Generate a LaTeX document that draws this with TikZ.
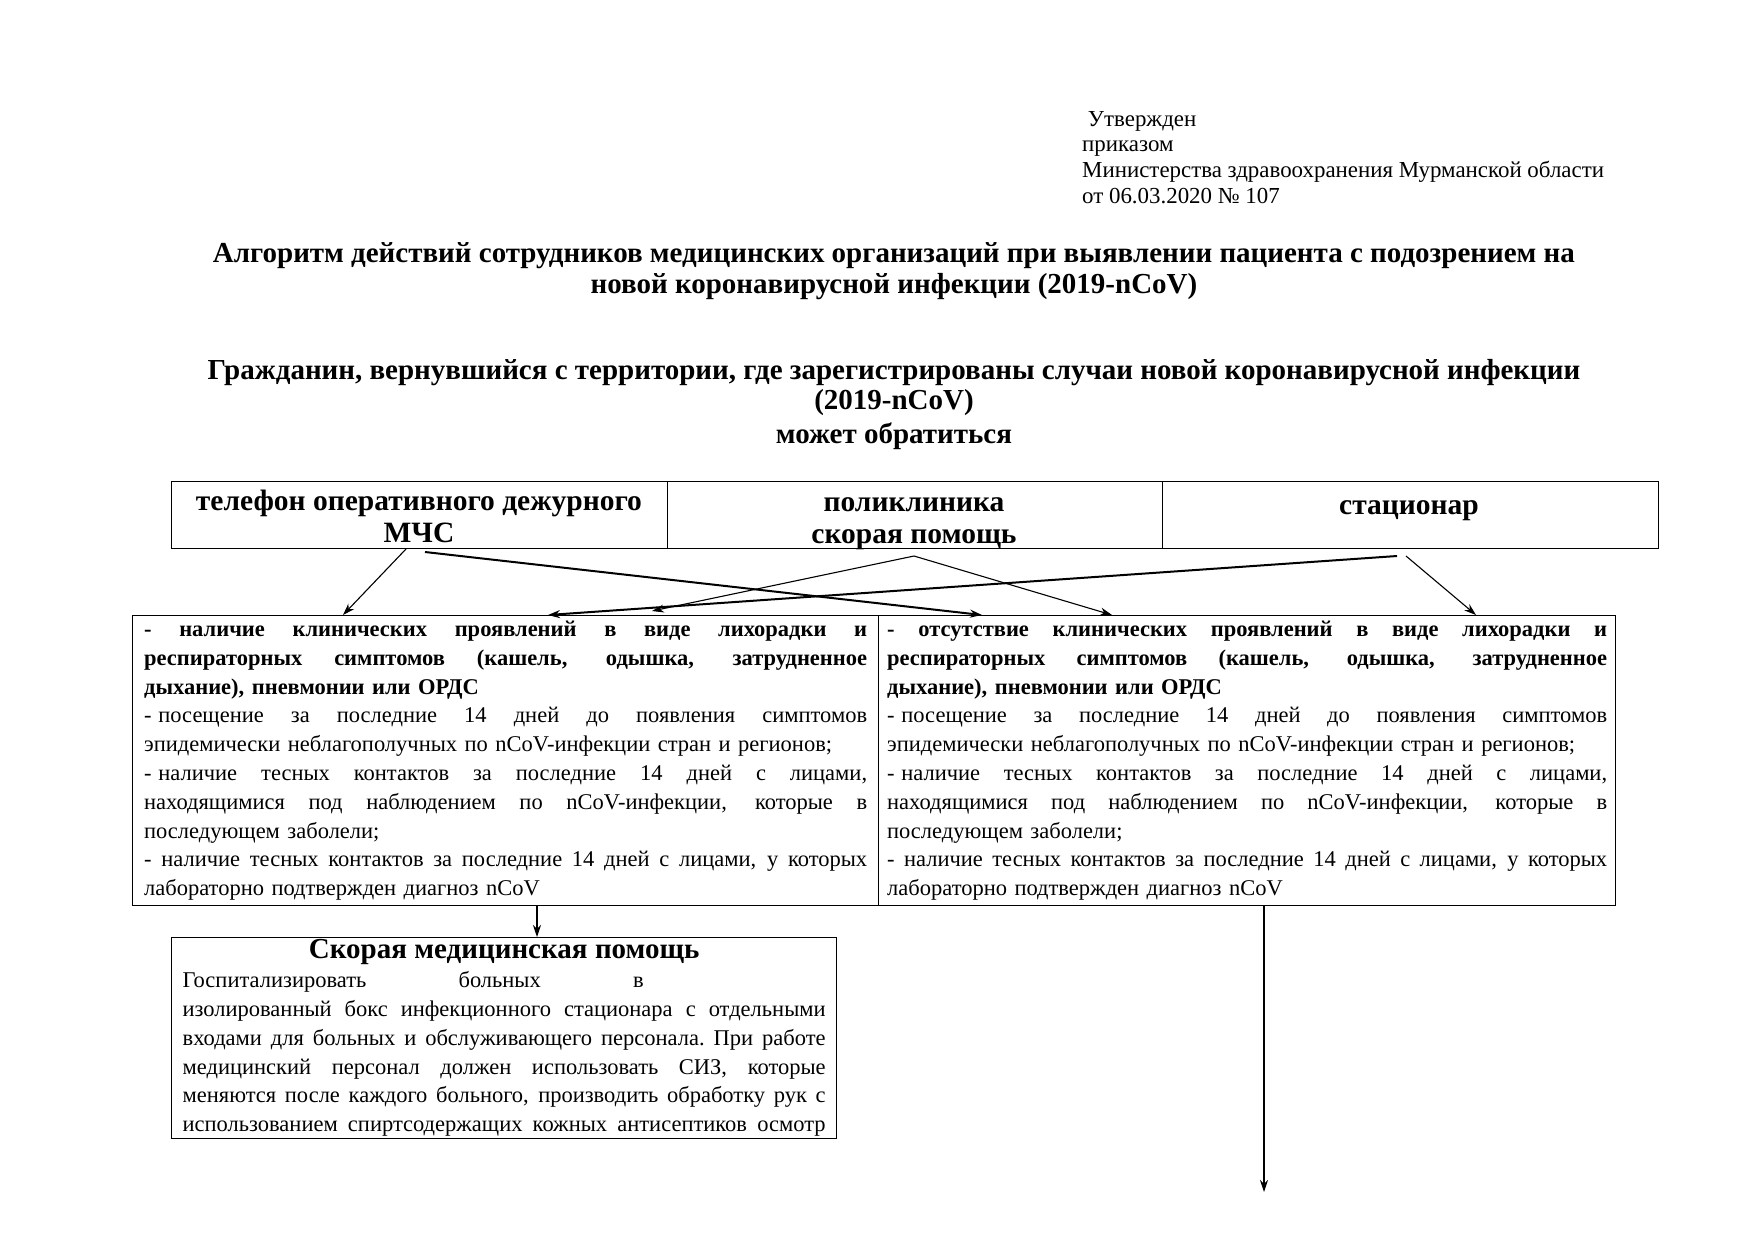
\documentclass[tikz,border=0pt]{standalone}
\usepackage{fontspec}
\setmainfont{Liberation Serif}
\usetikzlibrary{arrows.meta}
\newlength{\jw}
\newcommand{\J}[1]{\makebox[\jw][s]{\spaceskip=0.25em plus 20em\xspaceskip=0.25em plus 20em #1}}
\newcommand{\dsh}{-\hspace{0.3em}}
\begin{document}
\begin{tikzpicture}[x=1pt,y=-1pt,
  box/.style={draw,line width=1.3pt,inner ysep=0pt,anchor=north west,align=left},
  cell/.style={draw,line width=1.3pt,inner sep=0pt,anchor=north west,minimum width=495.5pt,minimum height=67pt},
  celltxt/.style={anchor=base,inner sep=0pt,font=\bfseries\fontsize{29.5}{31}\selectfont},
  body/.style={font=\fontsize{22.5}{28.8}\selectfont},
  arr/.style={-{Stealth[length=12pt,width=8pt]},line width=1.1pt},
  arrb/.style={-{Stealth[length=12pt,width=8pt]},line width=2pt}]
\useasboundingbox[fill=white] (0,0) rectangle (1753,1240);

% header
\node[anchor=north west,align=left,inner sep=0pt,font=\fontsize{22.9}{25.7}\selectfont] (hdr) at (1082,111)
 {\ Утвержден\\приказом\\Министерства здравоохранения Мурманской области\\от 06.03.2020 № 107};

% titles
\node[align=center,inner sep=0pt,font=\bfseries\fontsize{29}{31}\selectfont] (title) at (894,271)
 {Алгоритм действий сотрудников медицинских организаций при выявлении пациента с подозрением на\\новой коронавирусной инфекции (2019-nCoV)};
\node[align=center,inner sep=0pt,font=\bfseries\fontsize{29}{29.5}\selectfont] (head) at (894,405)
 {Гражданин, вернувшийся с территории, где зарегистрированы случаи новой коронавирусной инфекции\\(2019-nCoV)\\[5pt]может обратиться};

% top cells
\node[cell] (c1) at (171,481) {};
\node[cell] (c2) at (666.5,481) {};
\node[cell] (c3) at (1162,481) {};
\node[celltxt] (t1a) at (419,510) {телефон оперативного дежурного};
\node[celltxt] (t1b) at (419,542) {МЧС};
\node[celltxt] (t2a) at (914,511) {поликлиника};
\node[celltxt] (t2b) at (914,543) {скорая помощь};
\node[celltxt] (t3) at (1409,514) {стационар};

% condition boxes
\node[box,body,text width=723pt,inner xsep=11.5pt,minimum height=290pt] (L) at (132,615)
 {\setlength{\jw}{723pt}%
  {\bfseries\J{- наличие клинических проявлений в виде лихорадки и}\\
  \J{респираторных симптомов (кашель, одышка, затрудненное}\\
  дыхание), пневмонии или ОРДС}\\
  \J{\dsh посещение за последние 14 дней до появления симптомов}\\
  эпидемически неблагополучных по nCoV-инфекции стран и регионов;\\
  \J{\dsh наличие тесных контактов за последние 14 дней с лицами,}\\
  \J{находящимися под наблюдением по nCoV-инфекции, которые в}\\
  последующем заболели;\\
  \J{- наличие тесных контактов за последние 14 дней с лицами, у которых}\\
  лабораторно подтвержден диагноз nCoV};
\node[box,body,text width=720pt,inner xsep=8.5pt,minimum height=290pt] (R) at (878,615)
 {\setlength{\jw}{720pt}%
  {\bfseries\J{- отсутствие клинических проявлений в виде лихорадки и}\\
  \J{респираторных симптомов (кашель, одышка, затрудненное}\\
  дыхание), пневмонии или ОРДС}\\
  \J{\dsh посещение за последние 14 дней до появления симптомов}\\
  эпидемически неблагополучных по nCoV-инфекции стран и регионов;\\
  \J{\dsh наличие тесных контактов за последние 14 дней с лицами,}\\
  \J{находящимися под наблюдением по nCoV-инфекции, которые в}\\
  последующем заболели;\\
  \J{- наличие тесных контактов за последние 14 дней с лицами, у которых}\\
  лабораторно подтвержден диагноз nCoV};

% ambulance box
\node[box,body,text width=643pt,inner xsep=11pt,minimum height=201pt] (A) at (171,937)
 {\setlength{\jw}{643pt}%
  \makebox[\jw][c]{\bfseries\fontsize{29}{30}\selectfont Скорая медицинская помощь}\\
  \makebox[461pt][s]{\spaceskip=0.25em plus 20em Госпитализировать больных в}\\
  \J{изолированный бокс инфекционного стационара с отдельными}\\
  \J{входами для больных и обслуживающего персонала. При работе}\\
  \J{медицинский персонал должен использовать СИЗ, которые}\\
  \J{меняются после каждого больного, производить обработку рук с}\\
  \J{использованием спиртсодержащих кожных антисептиков осмотр}};

% connector end points
\coordinate (s1) at (406,549);
\coordinate (s2) at (425,552);
\coordinate (s3) at (914,556);
\coordinate (s5) at (1397,556);
\coordinate (s6) at (1406,556);
\coordinate (e1) at (343,615);
\coordinate (e2) at (982,615);
\coordinate (e3) at (652,611);
\coordinate (e4) at (1112,615);
\coordinate (e5) at (548,615);
\coordinate (e6) at (1476,615);
\coordinate (dL1) at (537,905);
\coordinate (dL2) at (537,937);
\coordinate (dR1) at (1264,905);
\coordinate (dR2) at (1264,1192);

\draw[arr] (s1) -- (e1);
\draw[arrb] (s2) -- (e2);
\draw[arr] (s3) -- (e3);
\draw[arr] (s3) -- (e4);
\draw[arrb] (s5) -- (e5);
\draw[arr] (s6) -- (e6);
\draw[arr] (dL1) -- (dL2);
\draw[arr] (dR1) -- (dR2);
\end{tikzpicture}
\end{document}
